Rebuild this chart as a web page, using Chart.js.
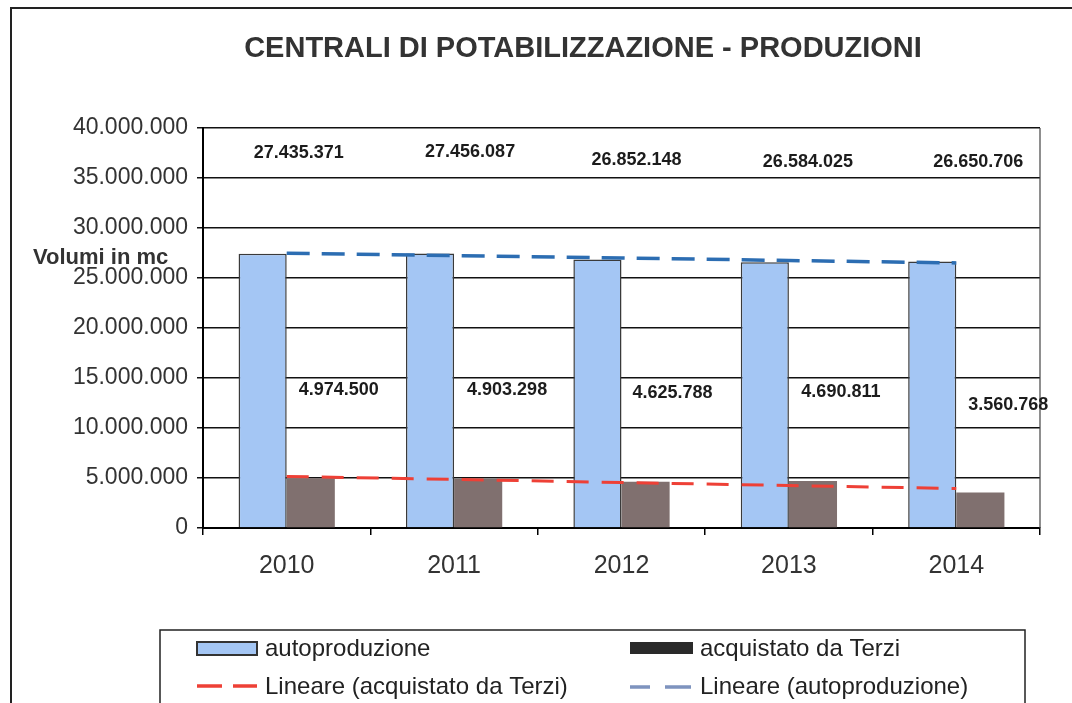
<!DOCTYPE html>
<html>
<head>
<meta charset="utf-8">
<script src="https://cdn.jsdelivr.net/npm/chart.js@4.4.1/dist/chart.umd.min.js"></script>
<style>
html,body{margin:0;padding:0;background:#fff;}
#wrap{width:1072px;height:703px;position:relative;overflow:hidden;}
</style>
</head>
<body>
<div id="wrap"><canvas id="c" width="1072" height="703"></canvas></div>
<script>
// ---- data ----
const years = ['2010', '2011', '2012', '2013', '2014'];
const autoproduzione = [27435371, 27456087, 26852148, 26584025, 26650706];
const acquistatoDaTerzi = [4974500, 4903298, 4625788, 4690811, 3560768];
const yTickValues = [0, 5000000, 10000000, 15000000, 20000000, 25000000, 30000000, 35000000, 40000000];
const chartTitle = 'CENTRALI DI POTABILIZZAZIONE - PRODUZIONI';
const yAxisLabel = 'Volumi in mc';
const seriesNames = ['autoproduzione', 'acquistato da Terzi', 'Lineare (acquistato da Terzi)', 'Lineare (autoproduzione)'];

// Excel-style linear trendline (least squares over category index)
function linearTrend(vals) {
  const n = vals.length;
  const xm = (n - 1) / 2;
  const ym = vals.reduce((a, b) => a + b, 0) / n;
  let num = 0, den = 0;
  vals.forEach((v, i) => { num += (i - xm) * (v - ym); den += (i - xm) * (i - xm); });
  const slope = num / den;
  return vals.map((v, i) => ym + slope * (i - xm));
}
function fmt(v) { return String(Math.round(v)).replace(/\B(?=(\d{3})+(?!\d))/g, '.'); }

const FONT = "'Liberation Sans', Arial, Helvetica, sans-serif";
const BLUE = '#A4C6F4';
const GREY = '#80706F';
const RED = '#EE4036';
const DBLUE = '#2C6DB2';

// label placement (style, not data)
const topLabelDx = [12, 16, 15, 19, 22];
const topLabelY = [153, 152, 160, 162, 162];
const lowLabelDx = [52, 53, 51, 52, 52];
const lowLabelY = [390, 390, 393, 392, 405];

const decorPlugin = {
  id: 'decor',
  beforeDraw(chart) {
    const ctx = chart.ctx;
    ctx.save();
    ctx.fillStyle = '#fff';
    ctx.fillRect(0, 0, chart.width, chart.height);
    ctx.restore();
  },
  afterDraw(chart) {
    const ctx = chart.ctx;
    const ca = chart.chartArea;
    const xs = chart.scales.x;
    ctx.save();
    // outer frame (top + left)
    ctx.strokeStyle = '#222';
    ctx.lineWidth = 2;
    ctx.beginPath();
    ctx.moveTo(11, 703); ctx.lineTo(11, 8); ctx.lineTo(1072, 8);
    ctx.stroke();
    // right plot border
    ctx.lineWidth = 1.2;
    ctx.strokeStyle = '#444';
    ctx.beginPath();
    ctx.moveTo(ca.right, ca.top); ctx.lineTo(ca.right, ca.bottom);
    ctx.stroke();

    // title
    ctx.fillStyle = '#333';
    ctx.font = 'bold 29px ' + FONT;
    ctx.textAlign = 'center';
    ctx.textBaseline = 'middle';
    ctx.fillText(chartTitle, 583, 49);

    // y axis label
    ctx.font = 'bold 22px ' + FONT;
    ctx.textAlign = 'left';
    ctx.fillText(yAxisLabel, 33, 258);

    // data labels
    ctx.fillStyle = '#1c1c1c';
    ctx.font = 'bold 18px ' + FONT;
    ctx.textAlign = 'center';
    years.forEach((y, i) => {
      const cx = xs.getPixelForValue(i);
      ctx.fillText(fmt(autoproduzione[i]), cx + topLabelDx[i], topLabelY[i]);
      ctx.fillText(fmt(acquistatoDaTerzi[i]), cx + lowLabelDx[i], lowLabelY[i]);
    });

    // legend
    const ds = chart.data.datasets;
    ctx.strokeStyle = '#222';
    ctx.lineWidth = 1.5;
    ctx.strokeRect(160, 630, 865, 120);
    ctx.font = '24px ' + FONT;
    ctx.textAlign = 'left';
    // row 1
    ctx.fillStyle = ds[0].backgroundColor;
    ctx.fillRect(197, 642, 60, 13);
    ctx.strokeStyle = '#333';
    ctx.lineWidth = 2;
    ctx.strokeRect(197, 642, 60, 13);
    ctx.fillStyle = '#222';
    ctx.fillText(ds[0].label, 265, 649);
    ctx.fillStyle = '#2a2a2a';
    ctx.fillRect(630, 642, 63, 12);
    ctx.fillStyle = '#222';
    ctx.fillText(ds[1].label, 700, 649);
    // row 2
    ctx.lineWidth = 3.5;
    ctx.strokeStyle = ds[2].borderColor;
    ctx.beginPath();
    ctx.moveTo(197, 686); ctx.lineTo(222, 686);
    ctx.moveTo(233, 686); ctx.lineTo(257, 686);
    ctx.stroke();
    ctx.fillText(ds[2].label, 265, 687);
    ctx.strokeStyle = '#7E93BE';
    ctx.beginPath();
    ctx.moveTo(630, 687); ctx.lineTo(650, 687);
    ctx.moveTo(665, 687); ctx.lineTo(691, 687);
    ctx.stroke();
    ctx.fillText(ds[3].label, 700, 687);
    ctx.restore();
  }
};

new Chart(document.getElementById('c'), {
  type: 'bar',
  data: {
    labels: years,
    datasets: [
      {
        label: seriesNames[0], data: autoproduzione, backgroundColor: BLUE,
        borderColor: '#3a3a3a', borderWidth: 1.5, borderSkipped: 'bottom',
        categoryPercentage: 0.575, barPercentage: 1.0, order: 2
      },
      {
        label: seriesNames[1], data: acquistatoDaTerzi, backgroundColor: GREY,
        borderWidth: 0, categoryPercentage: 0.575, barPercentage: 1.0, order: 2
      },
      {
        type: 'line', label: seriesNames[2], data: linearTrend(acquistatoDaTerzi),
        borderColor: RED, borderWidth: 3, borderDash: [22, 13], pointRadius: 0,
        fill: false, order: 0
      },
      {
        type: 'line', label: seriesNames[3], data: linearTrend(autoproduzione),
        borderColor: DBLUE, borderWidth: 3.5, borderDash: [23, 12], pointRadius: 0,
        fill: false, order: 1
      }
    ]
  },
  options: {
    responsive: false,
    devicePixelRatio: 1,
    animation: false,
    layout: { padding: { left: 0, right: 32, top: 128, bottom: 100 } },
    plugins: { legend: { display: false }, title: { display: false }, tooltip: { enabled: false } },
    scales: {
      x: {
        offset: true,
        grid: { drawOnChartArea: false, drawTicks: true, tickLength: 7, color: '#000', lineWidth: 1.5, offset: true },
        border: { display: true, color: '#000', width: 2 },
        ticks: { color: '#333', font: { family: FONT, size: 25 }, padding: 16 },
        afterFit(s) { s.height = 75; }
      },
      y: {
        min: 0, max: 40000000,
        afterBuildTicks(s) { s.ticks = yTickValues.map(v => ({ value: v })); },
        grid: { color: '#111', lineWidth: 1.5, tickLength: 6, drawTicks: true },
        border: { display: true, color: '#000', width: 2 },
        ticks: { color: '#333', font: { family: FONT, size: 23 }, padding: 9, callback: v => fmt(v) },
        afterFit(s) { s.width = 203; }
      }
    }
  },
  plugins: [decorPlugin]
});
</script>
</body>
</html>
